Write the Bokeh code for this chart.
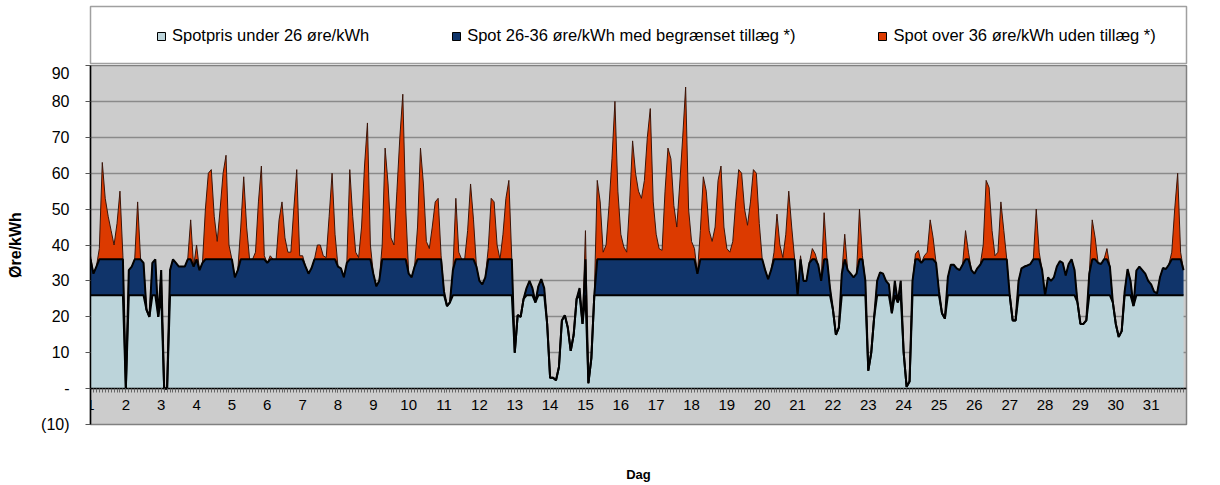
import numpy as np
from bokeh.plotting import figure
from bokeh.models import FixedTicker, Legend, LegendItem, LinearAxis, Range1d
from bokeh.layouts import column
from bokeh.embed import file_html
from bokeh.resources import INLINE

# ---------------- data ----------------
days = list(range(1, 32))
hours = [0, 2, 4, 6, 8, 10, 12, 14, 16, 18, 20, 22]

# spot price, øre/kWh, every second hour of each day
price_by_day = [
    [37, 32, 34, 39, 63, 53, 48, 44, 40, 46, 55, 37],          # 1
    [0, 33, 34, 36, 52, 36, 35, 22, 20, 35, 36, 20],           # 2
    [33, 0, 0, 33, 36, 35, 34, 34, 34, 36, 47, 34],            # 3
    [40, 33, 35, 50, 60, 61, 48, 41, 50, 60, 65, 40],          # 4
    [36, 31, 33, 45, 59, 45, 36, 36, 38, 52, 62, 37],          # 5
    [35, 37, 36, 36, 47, 52, 42, 38, 38, 50, 61, 37],          # 6
    [37, 34, 32, 33.5, 36, 40, 40, 37, 36.5, 48, 60, 43],      # 7
    [34, 33.5, 31, 35, 61, 48, 38, 36.5, 45, 62, 74, 40],      # 8
    [32, 28.5, 30, 40, 67, 57, 42, 40, 55, 70, 82, 50],        # 9
    [32, 31, 34, 45, 67, 57, 41, 39, 45, 52, 53, 37],          # 10
    [27, 23, 24, 33, 53, 38, 36, 36, 44, 57, 47, 34],          # 11
    [30, 29, 31, 39, 53, 52, 40, 36, 43, 53, 58, 36],          # 12
    [10, 20.5, 20, 25, 28, 30, 28, 24, 28.5, 30.5, 28, 18],    # 13
    [3, 3, 2.3, 6, 19, 20.4, 17, 10.5, 15, 25, 28, 18],        # 14
    [44, 1.5, 8.5, 26, 58, 52, 38, 40, 51, 64, 80, 55],        # 15
    [43, 39.5, 38, 52, 69, 60, 55, 53, 58, 70, 78, 52],        # 16
    [43, 39, 38.5, 55, 67, 64, 51, 45, 57, 70, 84, 50],        # 17
    [41, 39, 32, 44, 59, 55, 44, 41, 45, 58, 62, 45],          # 18
    [39, 38, 41, 52, 61, 60, 50, 45.5, 52, 61, 60, 46],        # 19
    [36, 33, 30.5, 33, 38, 48.6, 40, 36.5, 43, 55, 45, 36],    # 20
    [26, 37, 30, 30, 35, 39, 37.5, 34.5, 30, 49, 36, 28],      # 21
    [22, 15, 17, 32, 43, 33, 32, 31, 32, 50, 37, 30],          # 22
    [5, 10, 20, 30, 32.4, 32, 30, 29, 21, 30, 24, 30],         # 23
    [10, 0.5, 2, 30, 37.5, 38.5, 35, 37, 38, 47, 42, 35],      # 24
    [27, 21, 19.5, 31, 34.5, 34.5, 33.5, 33, 34.5, 44, 38, 33],  # 25
    [32, 33.5, 34.5, 40, 58, 56, 44, 37, 38, 52, 44, 36],      # 26
    [26, 19, 19, 30, 33.5, 34, 34.3, 34.7, 36, 50, 38, 33],    # 27
    [26, 31, 30, 31, 34, 35.5, 35, 31.5, 34.7, 36, 33, 24],    # 28
    [18, 18, 19, 32, 47, 42, 35, 34.7, 36, 39, 34, 24],        # 29
    [18, 14.4, 16, 27, 33.3, 30, 23, 32.9, 34, 33, 32, 30],    # 30
    [29, 27, 26.5, 31, 33.6, 33.3, 34.5, 38, 50, 60, 38, 33],  # 31
]

limit_low = 26
limit_high = 36

y_ticks = [-10, 0, 10, 20, 30, 40, 50, 60, 70, 80, 90]
y_tick_labels = ["(10)", "-", "10", "20", "30", "40", "50", "60", "70", "80", "90"]

series_labels = [
    "Spotpris under 26 øre/kWh",
    "Spot 26-36 øre/kWh med begrænset tillæg *)",
    "Spot over 36 øre/kWh uden tillæg *)",
]
series_colors = ["#bcd4da", "#10346a", "#dc3a00"]

# ---------------- derived ----------------
x = np.array([d + h / 24.0 for d in days for h in hours])
price = np.array([v for row in price_by_day for v in row], dtype=float)
band_low = np.minimum(price, limit_low)
band_mid = np.minimum(price, limit_high)

FONT = "Liberation Sans"

# ---------------- main chart ----------------
p = figure(width=1200, height=420,
           x_range=Range1d(1, 32), y_range=Range1d(-10, 90),
           output_backend="svg", toolbar_location=None,
           min_border_left=90, min_border_right=14,
           min_border_top=1, min_border_bottom=50)
p.background_fill_color = "#cccccc"
p.border_fill_color = "white"
p.outline_line_color = "#808080"
p.outline_line_width = 1.5

p.varea(x=x, y1=0, y2=band_low, fill_color=series_colors[0])
p.varea(x=x, y1=band_low, y2=band_mid, fill_color=series_colors[1])
p.varea(x=x, y1=band_mid, y2=price, fill_color=series_colors[2])
p.line(x, price, line_color="#3a1408", line_width=1)
p.line(x, band_mid, line_color="black", line_width=2)
p.line(x, band_low, line_color="black", line_width=2)

# y axis
p.yaxis.ticker = FixedTicker(ticks=y_ticks)
p.yaxis.major_label_overrides = {t: l for t, l in zip(y_ticks, y_tick_labels)}
p.yaxis.major_label_text_font = FONT
p.yaxis.major_label_text_font_size = "16px"
p.yaxis.major_label_text_color = "black"
p.yaxis.major_tick_out = 5
p.yaxis.major_tick_in = 0
p.yaxis.minor_tick_out = 0
p.yaxis.minor_tick_in = 0
p.yaxis.major_label_standoff = 16
p.yaxis.axis_line_color = "black"
p.yaxis.axis_line_width = 1.5
p.yaxis.major_tick_line_color = "#555555"
p.yaxis.axis_label = "Øre/kWh"
p.yaxis.axis_label_text_font = FONT
p.yaxis.axis_label_text_font_size = "16px"
p.yaxis.axis_label_text_font_style = "bold"
p.yaxis.axis_label_text_color = "black"
p.yaxis.axis_label_standoff = 14

# x axis drawn at zero
xa = p.xaxis[0]
xa.fixed_location = 0
xa.ticker = FixedTicker(ticks=days, minor_ticks=list(x))
xa.major_label_text_font = FONT
xa.major_label_text_font_size = "15px"
xa.major_label_text_color = "black"
xa.major_tick_out = 4
xa.major_tick_in = 0
xa.minor_tick_out = 4
xa.minor_tick_in = 0
xa.major_label_standoff = 7
xa.axis_line_color = "black"
xa.axis_line_width = 1.5
xa.major_tick_line_color = "#666666"
xa.minor_tick_line_color = "#666666"

# axis title "Dag" below the frame
title_axis = LinearAxis(ticker=FixedTicker(ticks=[]), axis_label="Dag",
                        axis_line_color=None, major_tick_line_color=None,
                        minor_tick_line_color=None,
                        major_label_text_font_size="0px",
                        axis_label_text_font=FONT, axis_label_text_font_size="13px",
                        axis_label_text_font_style="bold",
                        axis_label_text_color="black",
                        axis_label_standoff=42)
p.add_layout(title_axis, "below")

p.xgrid.visible = False
p.ygrid.ticker = FixedTicker(ticks=y_ticks)
p.ygrid.grid_line_color = "#8a8a8a"
p.ygrid.grid_line_width = 1.5

# ---------------- legend strip ----------------
top = figure(width=1200, height=64, x_range=Range1d(0, 1), y_range=Range1d(0, 1),
             x_axis_type=None, y_axis_type=None,
             output_backend="svg", toolbar_location=None,
             min_border_left=71, min_border_right=0,
             min_border_top=6, min_border_bottom=0)
top.grid.visible = False
top.background_fill_color = "white"
top.border_fill_color = "white"
top.outline_line_color = "#a0a0a0"
top.outline_line_width = 1.5

items = []
for lab, col in zip(series_labels, series_colors):
    r = top.quad(left=[np.nan], right=[np.nan], top=[np.nan], bottom=[np.nan],
                 fill_color=col, line_color="black", line_width=1)
    items.append(LegendItem(label=lab, renderers=[r]))

legend = Legend(items=items, orientation="horizontal", location=(66, 19),
                spacing=82, padding=0, margin=0,
                glyph_width=10, glyph_height=10, label_standoff=6,
                label_text_font=FONT, label_text_font_size="16.5px",
                label_text_color="black",
                border_line_color=None, background_fill_alpha=0)
top.add_layout(legend)

layout = column(top, p)
open("out.html", "w").write(file_html(layout, INLINE))
